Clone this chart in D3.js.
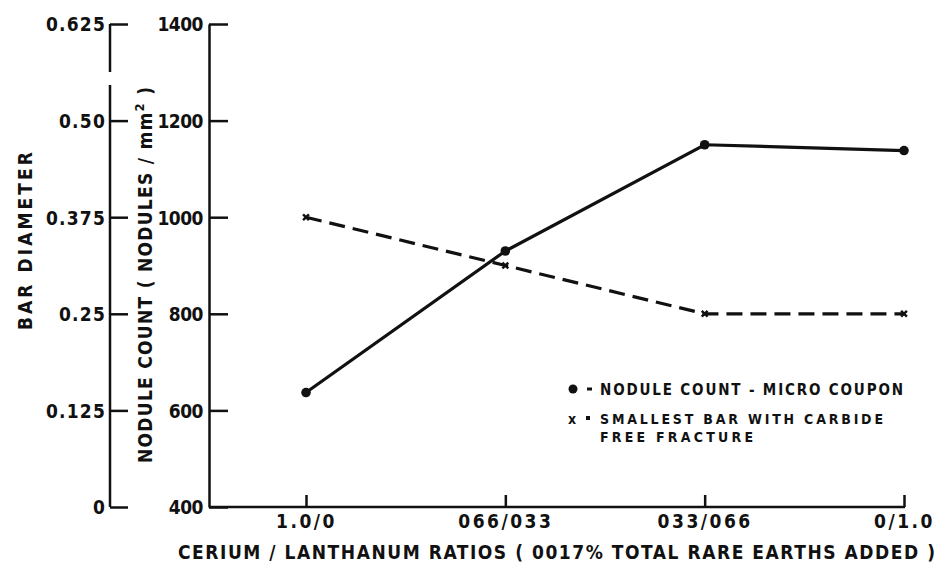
<!DOCTYPE html>
<html>
<head>
<meta charset="utf-8">
<script src="https://cdn.jsdelivr.net/npm/d3@7"></script>
<style>
  body { margin: 0; background: #fff; }
  svg text { font-family: "DejaVu Sans Condensed", "DejaVu Sans", sans-serif; fill: #111; font-weight: bold; }
</style>
</head>
<body>
<div id="chart"></div>
<script>
// ---------------- data ----------------
const ratios = ["1.0/0", "066/033", "033/066", "0/1.0"];
const noduleCount = [637, 930, 1150, 1138];          // nodules / mm2
const barDiameter = [0.375, 0.3125, 0.25, 0.25];     // smallest carbide-free bar
const noduleTicks = [400, 600, 800, 1000, 1200, 1400];
const barTicks = [0, 0.125, 0.25, 0.375, 0.50, 0.625];
const barTickLabels = ["0", "0.125", "0.25", "0.375", "0.50", "0.625"];

const width = 949, height = 569;
const svg = d3.select("#chart").append("svg")
    .attr("width", width)
    .attr("height", height);

// ---------------- scales ----------------
const leftAxisX = 110, countAxisX = 209, plotRight = 905;
const yCount = d3.scaleLinear().domain([400, 1400]).range([507, 24]);
const yBar = d3.scaleLinear().domain([0, 0.625]).range([507, 24]);
const x = d3.scalePoint().domain(ratios).range([306, 904]);

const ink = "#111";
const sw = 2.5;

// ---------------- bar diameter axis (far left) ----------------
const barAxis = svg.append("g")
    .attr("transform", `translate(${leftAxisX},0)`)
    .call(d3.axisLeft(yBar).tickValues(barTicks)
        .tickFormat((d, i) => barTickLabels[i])
        .tickSize(-18).tickSizeOuter(0).tickPadding(4));
barAxis.select(".domain").remove();
barAxis.selectAll(".tick line").attr("stroke", ink).attr("stroke-width", sw);
barAxis.selectAll(".tick text").attr("font-size", 19).attr("letter-spacing", 1.2)
    .attr("dy", "0.36em");
// axis line with the small break near the top
svg.append("line").attr("x1", leftAxisX).attr("x2", leftAxisX)
    .attr("y1", yBar(0.625)).attr("y2", 72)
    .attr("stroke", ink).attr("stroke-width", sw);
svg.append("line").attr("x1", leftAxisX).attr("x2", leftAxisX)
    .attr("y1", 85).attr("y2", yBar(0))
    .attr("stroke", ink).attr("stroke-width", sw);

// ---------------- nodule count axis ----------------
const countAxis = svg.append("g")
    .attr("transform", `translate(${countAxisX},0)`)
    .call(d3.axisLeft(yCount).tickValues(noduleTicks).tickFormat(d3.format("d"))
        .tickSize(-19).tickSizeOuter(0).tickPadding(6));
countAxis.select(".domain").attr("stroke", ink).attr("stroke-width", sw);
countAxis.selectAll(".tick line").attr("stroke", ink).attr("stroke-width", sw);
countAxis.selectAll(".tick text").attr("font-size", 19).attr("letter-spacing", -0.5)
    .attr("dy", "0.36em");

// ---------------- x axis ----------------
const xAxis = svg.append("g")
    .attr("transform", `translate(0,${yCount(400)})`)
    .call(d3.axisBottom(x).tickSize(-12).tickSizeOuter(0).tickPadding(8));
xAxis.select(".domain").remove();
xAxis.selectAll(".tick line").attr("stroke", ink).attr("stroke-width", sw);
xAxis.selectAll(".tick text").attr("font-size", 19).attr("letter-spacing", 2.5);
svg.append("line")
    .attr("x1", countAxisX).attr("x2", plotRight)
    .attr("y1", yCount(400)).attr("y2", yCount(400))
    .attr("stroke", ink).attr("stroke-width", sw);

// ---------------- axis titles ----------------
svg.append("text")
    .attr("transform", `translate(32,241) rotate(-90)`)
    .attr("text-anchor", "middle")
    .attr("font-size", 19)
    .attr("textLength", 178).attr("lengthAdjust", "spacing")
    .text("BAR DIAMETER");

const ncTitle = svg.append("text")
    .attr("transform", `translate(152,275) rotate(-90)`)
    .attr("text-anchor", "middle")
    .attr("font-size", 19)
    .attr("textLength", 376).attr("lengthAdjust", "spacing");
ncTitle.append("tspan").text("NODULE COUNT ( NODULES / mm");
ncTitle.append("tspan").attr("dy", -8).attr("font-size", 13).text("2");
ncTitle.append("tspan").attr("dy", 8).text(" )");

svg.append("text")
    .attr("x", 178).attr("y", 559)
    .attr("font-size", 19)
    .attr("textLength", 757).attr("lengthAdjust", "spacing")
    .text("CERIUM / LANTHANUM RATIOS ( 0017% TOTAL RARE EARTHS ADDED )");

// ---------------- lines ----------------
const countLine = d3.line()
    .x((d, i) => x(ratios[i]))
    .y(d => yCount(d));
const barLine = d3.line()
    .x((d, i) => x(ratios[i]))
    .y(d => yBar(d));

svg.append("path").datum(noduleCount)
    .attr("d", countLine)
    .attr("fill", "none").attr("stroke", ink).attr("stroke-width", 3.2);

svg.append("path").datum(barDiameter)
    .attr("d", barLine)
    .attr("fill", "none").attr("stroke", ink).attr("stroke-width", 3.2)
    .attr("stroke-dasharray", "16,8");

svg.selectAll(".dot").data(noduleCount).join("circle")
    .attr("class", "dot")
    .attr("cx", (d, i) => x(ratios[i]))
    .attr("cy", d => yCount(d))
    .attr("r", 4.8).attr("fill", ink);

svg.selectAll(".xmark").data(barDiameter).join("path")
    .attr("class", "xmark")
    .attr("transform", (d, i) => `translate(${x(ratios[i])},${yBar(d)})`)
    .attr("d", d3.symbol(d3.symbolX, 24))
    .attr("stroke", ink).attr("stroke-width", 2.4).attr("fill", "none");

// ---------------- legend ----------------
const legend = svg.append("g").attr("transform", "translate(573,389)");
legend.append("circle").attr("cx", 0).attr("cy", 0).attr("r", 4.5).attr("fill", ink);
legend.append("rect").attr("x", 14).attr("y", -1.5).attr("width", 5).attr("height", 3).attr("fill", ink);
legend.append("text").attr("x", 27).attr("y", 6).attr("font-size", 15)
    .attr("textLength", 303).attr("lengthAdjust", "spacing")
    .text("NODULE COUNT - MICRO COUPON");
legend.append("text").attr("x", -5).attr("y", 35).attr("font-size", 14)
    .text("x");
legend.append("rect").attr("x", 13).attr("y", 27).attr("width", 4).attr("height", 4).attr("fill", ink);
legend.append("text").attr("x", 27).attr("y", 35).attr("font-size", 14)
    .attr("textLength", 283).attr("lengthAdjust", "spacing")
    .text("SMALLEST BAR WITH CARBIDE");
legend.append("text").attr("x", 27).attr("y", 53).attr("font-size", 14)
    .attr("textLength", 153).attr("lengthAdjust", "spacing")
    .text("FREE FRACTURE");
</script>
</body>
</html>
